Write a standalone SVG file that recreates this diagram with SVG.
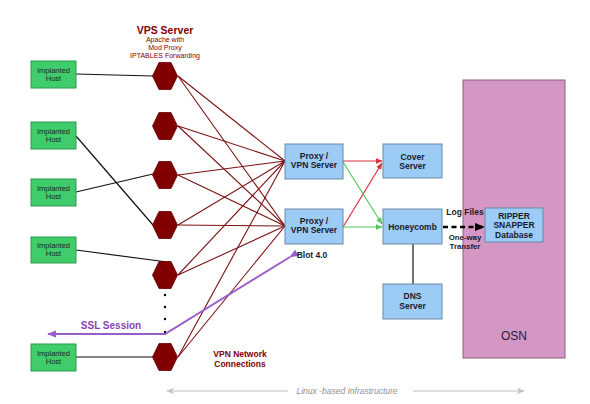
<svg xmlns="http://www.w3.org/2000/svg" width="590" height="404" viewBox="0 0 590 404">
<style>
.host{fill:#40cc6a;stroke:#2e9a50;stroke-width:1}
.box{fill:#9cccf6;stroke:#6a88a8;stroke-width:1}
.hex{fill:#800000;stroke:#6a0000;stroke-width:0.8}
.t{font-family:"Liberation Sans",Arial,sans-serif;text-anchor:middle}
.ht{font-size:7.5px;fill:#1a2a1a}
.bt{font-size:8.5px;font-weight:bold;fill:#1a1a2a}
.fan{stroke:#7a1010;stroke-width:1.1;fill:none}
.blk{stroke:#111;stroke-width:1.2;fill:none}
.dr{fill:#800000}
</style>
<defs>
<marker id="ar" viewBox="0 0 10 10" refX="9" refY="5" markerWidth="7" markerHeight="7" orient="auto" markerUnits="userSpaceOnUse"><path d="M0,1 L10,5 L0,9 Z" fill="#e03040"/></marker>
<marker id="ag" viewBox="0 0 10 10" refX="9" refY="5" markerWidth="7" markerHeight="7" orient="auto" markerUnits="userSpaceOnUse"><path d="M0,1 L10,5 L0,9 Z" fill="#55c860"/></marker>
<marker id="ap" viewBox="0 0 10 10" refX="9" refY="5" markerWidth="9" markerHeight="9" orient="auto" markerUnits="userSpaceOnUse"><path d="M0,1 L10,5 L0,9 Z" fill="#9a5cc8"/></marker>
<marker id="ab" viewBox="0 0 10 10" refX="9" refY="5" markerWidth="12" markerHeight="10" orient="auto" markerUnits="userSpaceOnUse"><path d="M0,1 L10,5 L0,9 Z" fill="#000"/></marker>
<marker id="agr" viewBox="0 0 10 10" refX="9" refY="5" markerWidth="9" markerHeight="8" orient="auto" markerUnits="userSpaceOnUse"><path d="M0,1 L10,5 L0,9 L3,5 Z" fill="#c0c0c0"/></marker>
<polygon id="hx" points="-12.5,0 -6,-13.5 6,-13.5 12.5,0 6,13.5 -6,13.5"/>
</defs>

<g id="osn">
<rect x="463" y="80" width="102" height="278" fill="#d497c3" stroke="#8a6080" stroke-width="1"/>
<text class="t" x="514" y="340" font-size="12" fill="#2a1a3a">OSN</text>
</g>

<g id="connectors">
<g class="fan">
<line x1="178" y1="76" x2="285" y2="161"/><line x1="178" y1="76" x2="285" y2="226"/>
<line x1="178" y1="126" x2="285" y2="161"/><line x1="178" y1="126" x2="285" y2="226"/>
<line x1="178" y1="175" x2="285" y2="161"/><line x1="178" y1="175" x2="285" y2="226"/>
<line x1="178" y1="225" x2="285" y2="161"/><line x1="178" y1="225" x2="285" y2="226"/>
<line x1="178" y1="275" x2="285" y2="161"/><line x1="178" y1="275" x2="285" y2="226"/>
<line x1="178" y1="357" x2="285" y2="161"/><line x1="178" y1="357" x2="285" y2="226"/>
</g>
<g class="blk">
<line x1="76" y1="74" x2="153" y2="76"/>
<line x1="76" y1="136" x2="153" y2="225"/>
<line x1="76" y1="192" x2="153" y2="174"/>
<line x1="76" y1="250" x2="167" y2="262"/>
<line x1="76" y1="357" x2="153" y2="357"/>
<line x1="413" y1="244" x2="413" y2="284"/>
</g>
<g fill="#000">
<circle cx="165" cy="295" r="1.2"/><circle cx="165" cy="307" r="1.2"/><circle cx="165" cy="319" r="1.2"/><circle cx="165" cy="332" r="1.2"/>
</g>
<line x1="343" y1="161" x2="382" y2="161" stroke="#e03040" stroke-width="1.2" marker-end="url(#ar)"/>
<line x1="343" y1="227" x2="382" y2="163" stroke="#e03040" stroke-width="1.2" marker-end="url(#ar)"/>
<line x1="343" y1="162" x2="382" y2="224" stroke="#55c860" stroke-width="1.2" marker-end="url(#ag)"/>
<line x1="343" y1="227" x2="382" y2="227" stroke="#55c860" stroke-width="1.2" marker-end="url(#ag)"/>
<line x1="443" y1="227" x2="484" y2="227" stroke="#000" stroke-width="2.4" stroke-dasharray="5,3.5" marker-end="url(#ab)"/>
<polyline points="290,257 165,334 48,334" fill="none" stroke="#9a5cc8" stroke-width="2" marker-start="url(#ap)" marker-end="url(#ap)"/>
<line x1="288" y1="391" x2="167" y2="391" stroke="#c0c0c0" stroke-width="1.2" marker-end="url(#agr)"/>
<line x1="413" y1="391" x2="524" y2="391" stroke="#c0c0c0" stroke-width="1.2" marker-end="url(#agr)"/>
</g>

<g id="hosts">
<g id="host1"><rect class="host" x="31" y="61" width="45" height="27"/><text class="t ht" x="53.5" y="72.5">Implanted</text><text class="t ht" x="53.5" y="80.5">Host</text></g>
<g id="host2"><rect class="host" x="31" y="122" width="45" height="27"/><text class="t ht" x="53.5" y="133.5">Implanted</text><text class="t ht" x="53.5" y="141.5">Host</text></g>
<g id="host3"><rect class="host" x="31" y="179" width="45" height="27"/><text class="t ht" x="53.5" y="190.5">Implanted</text><text class="t ht" x="53.5" y="198.5">Host</text></g>
<g id="host4"><rect class="host" x="31" y="237" width="45" height="26"/><text class="t ht" x="53.5" y="248">Implanted</text><text class="t ht" x="53.5" y="256">Host</text></g>
<g id="host5"><rect class="host" x="31" y="344" width="45" height="27"/><text class="t ht" x="53.5" y="355.5">Implanted</text><text class="t ht" x="53.5" y="363.5">Host</text></g>
</g>

<g id="vps">
<text class="t" x="165" y="34" font-size="10.5" font-weight="bold" fill="#800000">VPS Server</text>
<text class="t dr" x="165" y="42" font-size="7">Apache with</text>
<text class="t dr" x="165" y="50" font-size="7">Mod Proxy</text>
<text class="t dr" x="165" y="58" font-size="7">IPTABLES Forwarding</text>
<use href="#hx" class="hex" x="165" y="76"/>
<use href="#hx" class="hex" x="165" y="126"/>
<use href="#hx" class="hex" x="165" y="175"/>
<use href="#hx" class="hex" x="165" y="225"/>
<use href="#hx" class="hex" x="165" y="275"/>
<use href="#hx" class="hex" x="165" y="357"/>
</g>

<g id="proxy1"><rect class="box" x="285" y="144" width="58" height="35"/><text class="t bt" x="314" y="159">Proxy /</text><text class="t bt" x="314" y="168">VPN Server</text></g>
<g id="proxy2"><rect class="box" x="285" y="209" width="58" height="35"/><text class="t bt" x="314" y="224">Proxy /</text><text class="t bt" x="314" y="233">VPN Server</text></g>
<g id="cover"><rect class="box" x="383" y="144" width="59" height="34"/><text class="t bt" x="412.5" y="160">Cover</text><text class="t bt" x="412.5" y="169">Server</text></g>
<g id="honeycomb"><rect class="box" x="383" y="209" width="59" height="35"/><text class="t bt" x="412.5" y="229.5">Honeycomb</text></g>
<g id="dns"><rect class="box" x="383" y="284" width="59" height="35"/><text class="t bt" x="412.5" y="299">DNS</text><text class="t bt" x="412.5" y="309">Server</text></g>
<g id="ripper"><rect class="box" x="485" y="208" width="58" height="34"/><text class="t bt" x="514" y="218.5">RIPPER</text><text class="t bt" x="514" y="228">SNAPPER</text><text class="t bt" x="514" y="238">Database</text></g>

<g id="labels">
<text class="t bt" x="312" y="258">Blot 4.0</text>
<text class="t bt" x="465" y="215">Log Files</text>
<text class="t" x="465" y="239.5" font-size="7.8" font-weight="bold" fill="#1a1a2a">One-way</text>
<text class="t" x="465" y="248.5" font-size="7.8" font-weight="bold" fill="#1a1a2a">Transfer</text>
<text class="t" x="111" y="329" font-size="10" font-weight="bold" fill="#8a44b0">SSL Session</text>
<text class="t" x="240" y="357" font-size="8.5" font-weight="bold" fill="#800000">VPN Network</text>
<text class="t" x="240" y="367" font-size="8.5" font-weight="bold" fill="#800000">Connections</text>
<text class="t" x="347" y="394" font-size="8.5" font-style="italic" fill="#909090">Linux -based Infrastructure</text>
</g>
</svg>
